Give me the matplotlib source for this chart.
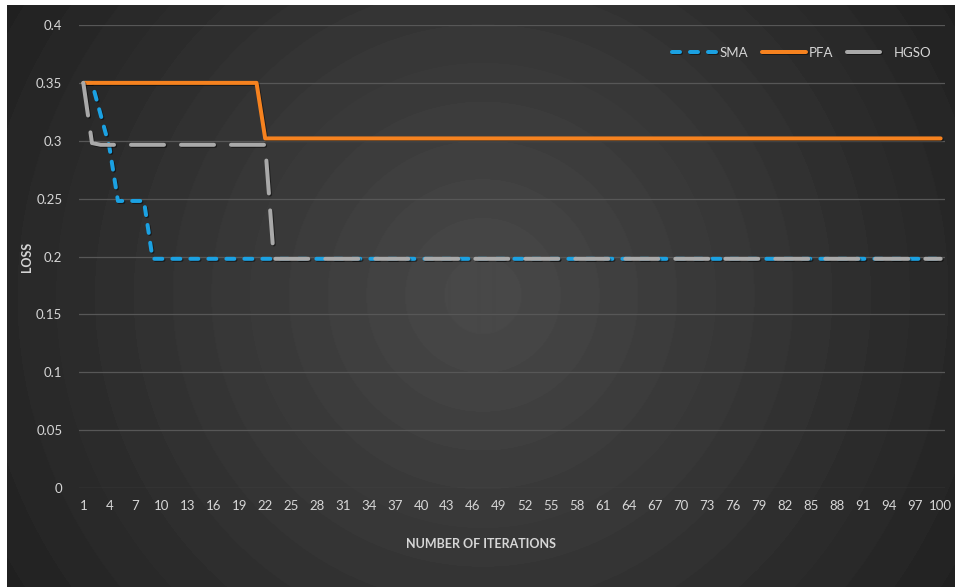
import numpy as np
import matplotlib
matplotlib.use("Agg")
import matplotlib.pyplot as plt
import matplotlib.patheffects as pe

plt.rcParams['font.family'] = ['Lato', 'DejaVu Sans']
plt.rcParams['lines.scale_dashes'] = False

iterations = list(range(1, 101))
sma = [0.35, 0.35, 0.3225, 0.295, 0.248, 0.248, 0.248, 0.248] + [0.198] * 92
pfa = [0.35] * 21 + [0.302] * 79
hgso = [0.35, 0.298] + [0.2965] * 20 + [0.198] * 78
y_ticks = [0, 0.05, 0.1, 0.15, 0.2, 0.25, 0.3, 0.35, 0.4]
y_labels = ['0', '0.05', '0.1', '0.15', '0.2', '0.25', '0.3', '0.35', '0.4']
x_ticks = list(range(1, 101, 3))

W, H = 955, 587
fig = plt.figure(figsize=(W / 100, H / 100), dpi=100)
fig.patch.set_facecolor('white')

# background radial gradient
bg = fig.add_axes([7 / W, 0, 1 - 7 / W, 1 - 5 / H], zorder=0)
bw, bh = W - 7, H - 5
yy, xx = np.mgrid[0:bh, 0:bw]
cx, cy = 475, 290
r = np.sqrt((xx - cx) ** 2 + (yy - cy) ** 2)
t = np.clip(r / 620, 0, 1)
t = np.floor(t * 16) / 16
c0, c1 = 0x48, 0x1b
val = (c0 + (c1 - c0) * t) / 255
img = np.dstack([val, val, val])
bg.imshow(img, aspect='auto', extent=[0, 1, 0, 1], interpolation='bilinear')
bg.set_axis_off()

ax = fig.add_axes([79 / W, 1 - 488 / H, (945 - 79) / W, (488 - 25) / H], zorder=1)
ax.patch.set_alpha(0)

txtc = '#d6d6d6'
lw = 4 * 0.72
shadow = [pe.SimpleLineShadow(offset=(0.8, -0.8), shadow_color='black', alpha=0.45), pe.Normal()]

l1, = ax.plot(iterations, sma, color='#1ba1e2', lw=lw, solid_capstyle='round',
              dash_capstyle='round', label='SMA', path_effects=shadow)
l1.set_dashes((8 * 0.72, 10 * 0.72))
l2, = ax.plot(iterations, pfa, color='#f6821f', lw=lw, solid_capstyle='round',
              label='PFA', path_effects=shadow)
l3, = ax.plot(iterations, hgso, color='#a9a9a9', lw=lw, dash_capstyle='round',
              solid_capstyle='round', label='HGSO', path_effects=shadow)
l3.set_dashes((33 * 0.72, 17 * 0.72))

ax.set_xlim(0.5, 100.5)
ax.set_ylim(0, 0.4)
ax.set_yticks(y_ticks)
ax.set_yticklabels(y_labels)
ax.set_xticks(x_ticks)
ax.set_xticklabels([str(v) for v in x_ticks])
ax.tick_params(axis='both', length=0, labelsize=9.5, colors=txtc)
ax.tick_params(axis='y', pad=12)
ax.tick_params(axis='x', pad=9)
for s in ax.spines.values():
    s.set_visible(False)
ax.grid(axis='y', color='#575757', lw=0.9)
ax.set_axisbelow(True)

fig.text(27 / W, 1 - 257 / H, 'LOSS', rotation=90, ha='center', va='center',
         color=txtc, fontsize=9, fontweight='bold')
fig.text(481 / W, 1 - 544 / H, 'NUMBER OF ITERATIONS', ha='center', va='center',
         color=txtc, fontsize=9, fontweight='bold')

leg = ax.legend(loc='center', bbox_to_anchor=(802 / W, 1 - 53 / H),
                bbox_transform=fig.transFigure, ncol=3, frameon=False,
                fontsize=9.5, handlelength=3.4, handletextpad=0.2,
                columnspacing=1.0, labelcolor=txtc)

fig.savefig('out.png', dpi=100)
